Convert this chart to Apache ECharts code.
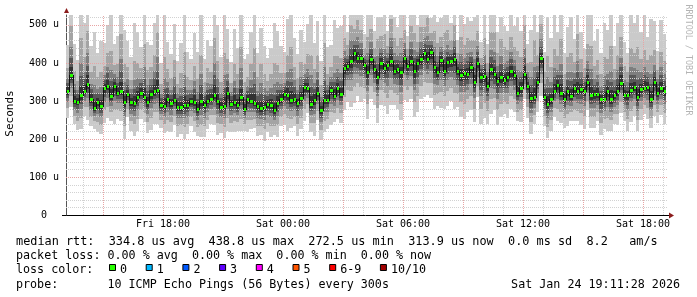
<!DOCTYPE html>
<html><head><meta charset="utf-8">
<script src="https://cdn.jsdelivr.net/npm/echarts@6/dist/echarts.min.js"></script>
<style>html,body{margin:0;padding:0;background:#fff}#c{width:697px;height:297px}</style>
</head><body><div id="c"></div>
<script>
// ---- axis / time settings (hours since Fri 00:00) ----
const START_HOUR = 13.15;
const END_HOUR = 43.15;
const STEP_HOURS = 1 / 6;          // 10-minute steps
const Y_MAX = 526;                 // microseconds
const xTickHours = [18, 24, 30, 36, 42];
const xTickLabels = ['Fri 18:00', 'Sat 00:00', 'Sat 06:00', 'Sat 12:00', 'Sat 18:00'];
const yTickValues = [0, 100, 200, 300, 400, 500];
const yTickLabels = ['0  ', '100 u', '200 u', '300 u', '400 u', '500 u'];
const gridHours = [14,15,16,17,18,19,20,21,22,23,24,25,26,27,28,29,30,31,32,33,34,35,36,37,38,39,40,41,42,43];
const gridValues = [20,40,60,80,100,120,140,160,180,200,220,240,260,280,300,320,340,360,380,400,420,440,460,480,500,520];

// ---- median RTT (us), one per 10-minute step ----
const median = [
326,368,300,298,315,326,345,305,281,297,
287,333,340,312,340,322,326,296,318,296,
294,310,322,310,296,318,325,330,289,286,
305,294,303,285,283,289,289,299,298,278,
300,289,301,305,316,301,285,287,320,293,
298,290,311,280,304,301,295,287,281,285,
292,290,275,295,304,318,316,303,305,294,
307,336,333,292,303,320,276,303,302,328,
314,333,318,386,392,405,425,412,412,395,
377,410,385,362,400,386,395,405,380,385,
375,412,392,406,378,400,410,425,410,428,
388,377,407,380,402,405,410,380,368,373,
370,390,350,400,364,366,340,385,370,352,
362,356,364,378,367,322,335,370,340,307,
310,351,412,310,292,305,327,342,322,305,
325,312,333,326,331,327,350,315,318,318,
305,305,326,305,315,326,348,316,315,330,
336,311,331,335,337,305,350,322,334,325];

// ---- smoke: distance (us) above median of ping 10,9,8,7,6 ----
const above1 = [
120,240,150,110,260,180,250,140,200,130,
170,120,160,230,110,150,260,190,140,120,
210,170,120,250,160,130,180,270,110,240,
150,130,200,120,170,260,140,110,180,150,
230,120,160,140,260,200,130,250,170,110,
190,150,240,130,120,180,260,140,210,160,
120,150,230,190,140,110,200,250,160,130,
180,120,170,240,150,190,130,260,140,120,
200,160,180,
140,90,150,110,160,130,80,150,140,100,
160,120,150,90,170,140,110,150,130,80,
150,160,100,140,120,170,90,150,130,110,
160,140,100,150,80,160,130,150,120,170,
140,90,160,110,150,170,130,160,140,120,
150,130,
200,150,240,110,180,260,130,170,120,230,
160,200,140,250,120,170,210,130,260,150,
110,190,240,140,170,120,200,160,250,130,
180,220,140,110,200,170,240,150,190,130,
210,160,110,180,150];
const above2 = [
60,130,80,55,150,90,140,70,110,65,
90,60,85,120,55,75,150,100,70,60,
110,90,65,140,85,70,95,150,55,130,
80,65,105,60,90,140,75,55,95,80,
120,60,85,70,150,105,65,140,90,55,
100,80,130,70,60,95,145,75,115,85,
60,80,125,100,70,55,105,140,85,65,
95,60,90,130,80,100,65,150,70,60,
105,85,95,
80,55,95,65,100,75,45,90,80,55,
100,70,90,50,110,85,60,90,75,45,
90,100,55,85,70,110,50,95,75,60,
100,85,55,90,45,100,75,95,70,110,
85,50,100,60,95,110,75,100,85,70,
90,75,
110,80,130,60,95,150,70,90,65,125,
85,110,75,140,65,90,115,70,150,80,
60,100,130,75,90,65,110,85,140,70,
95,120,75,60,110,90,130,80,100,70,
115,85,60,95,80];
const above3 = [
35,75,45,30,85,50,80,40,60,35,
50,35,50,70,30,40,85,55,40,35,
60,50,35,80,45,40,55,85,30,75,
45,35,60,35,50,80,40,30,55,45,
70,35,45,40,85,60,35,80,50,30,
55,45,75,40,35,55,80,40,65,50,
35,45,70,55,40,30,60,80,50,35,
55,35,50,75,45,55,35,85,40,35,
60,50,55,
45,30,55,35,55,40,25,50,45,30,
55,40,50,30,60,45,35,50,40,25,
50,55,30,45,40,60,30,55,40,35,
55,45,30,50,25,55,40,55,40,60,
45,30,55,35,50,60,40,55,45,40,
50,40,
60,45,70,35,55,80,40,50,35,70,
45,60,40,75,35,50,65,40,80,45,
35,55,70,40,50,35,60,45,75,40,
55,65,40,35,60,50,70,45,55,40,
65,45,35,55,45];
const above4 = [
22,44,30,19,50,31,47,27,36,24,
31,23,33,41,20,26,52,34,25,22,
37,30,24,48,29,25,35,50,19,45,
28,22,37,23,31,47,26,19,34,28,
42,23,29,26,51,36,22,48,32,20,
35,28,44,26,23,34,49,25,39,31,
22,29,41,34,26,20,37,47,31,23,
34,22,31,45,29,34,23,50,26,22,
37,31,34,
28,19,33,22,34,25,16,31,27,19,
34,25,31,19,37,28,22,30,25,16,
31,34,19,28,25,37,19,34,25,22,
34,28,19,31,16,34,25,34,25,37,
28,19,34,22,31,37,25,34,28,25,
31,25,
37,28,43,22,34,49,25,31,22,43,
28,37,25,46,22,31,40,25,49,28,
22,34,43,25,31,22,37,28,46,25,
34,40,25,22,37,31,43,28,34,25,
40,28,22,34,28];
const above5 = [
11,21,14,9,24,15,23,13,18,12,
15,11,16,20,10,13,25,17,12,11,
18,15,12,23,14,12,17,24,9,22,
14,11,18,11,15,23,13,9,17,14,
20,11,14,13,25,18,11,23,16,10,
17,14,21,13,11,17,24,12,19,15,
11,14,20,17,13,10,18,23,15,11,
17,11,15,22,14,17,11,24,13,11,
18,15,17,
14,10,17,11,17,12,8,15,14,10,
17,12,15,10,18,14,11,15,12,8,
15,17,10,14,12,18,10,17,12,11,
17,14,10,15,8,17,12,17,12,18,
14,10,17,11,15,18,12,17,14,12,
15,12,
18,14,21,11,17,24,12,15,11,21,
14,18,12,23,11,15,20,12,24,14,
11,17,21,12,15,11,18,14,23,12,
17,20,12,11,18,15,21,14,17,12,
20,14,11,17,14];

// ---- smoke: distance (us) below median of ping 1,2,3,4,5 ----
const below1 = [
70,85,60,75,90,65,95,70,55,80,
75,90,85,65,100,70,80,95,60,75,
85,90,70,65,80,95,85,90,60,70,
85,75,65,80,70,90,75,65,80,70,
95,85,75,65,80,90,70,85,100,75,
80,70,90,60,85,75,65,80,70,90,
75,85,65,90,70,80,95,75,70,85,
80,90,65,75,95,70,80,85,75,90,
70,80,75,
110,95,120,130,100,115,90,125,105,95,
120,110,100,130,115,90,105,125,110,95,
100,120,130,105,115,95,120,110,90,125,
100,115,105,130,95,110,120,100,115,105,
90,125,110,100,120,95,115,105,90,110,
100,95,
75,90,65,85,95,70,80,100,75,90,
85,70,95,80,75,90,65,85,80,95,
100,75,85,90,70,95,80,105,85,75,
90,80,70,95,85,75,90,80,70,85,
75,90,80,70,85];
const below2 = [
45,55,40,50,60,42,62,48,35,52,
50,58,55,42,65,46,52,62,40,50,
55,58,45,42,52,62,55,58,40,46,
55,50,42,52,46,58,50,42,52,46,
62,55,50,42,52,58,46,55,65,50,
52,46,58,40,55,50,42,52,46,58,
50,55,42,58,46,52,62,50,46,55,
52,58,42,50,62,46,52,55,50,58,
46,52,50,
75,62,80,88,66,76,60,84,70,62,
80,72,66,88,76,60,70,84,72,62,
66,80,88,70,76,62,80,72,60,84,
66,76,70,88,62,72,80,66,76,70,
60,84,72,66,80,62,76,70,60,72,
66,62,
50,60,42,56,62,46,52,66,50,60,
56,46,62,52,50,60,42,56,52,62,
66,50,56,60,46,62,52,70,56,50,
60,52,46,62,56,50,60,52,46,56,
50,60,52,46,56];
const below3 = [
28,34,24,30,36,25,38,29,21,32,
30,35,33,25,40,28,31,37,24,30,
33,35,27,25,31,37,33,35,24,28,
33,30,25,31,28,35,30,25,31,28,
37,33,30,25,31,35,28,33,40,30,
31,28,35,24,33,30,25,31,28,35,
30,33,25,35,28,31,37,30,28,33,
31,35,25,30,37,28,31,33,30,35,
28,31,30,
46,38,50,55,40,46,36,52,42,38,
50,44,40,55,46,36,42,52,44,38,
40,50,55,42,46,38,50,44,36,52,
40,46,42,55,38,44,50,40,46,42,
36,52,44,40,50,38,46,42,36,44,
40,38,
30,37,25,34,38,28,31,40,30,37,
34,28,38,31,30,37,25,34,31,38,
40,30,34,37,28,38,31,43,34,30,
37,31,28,38,34,30,37,31,28,34,
30,37,31,28,34];
const below4 = [
18,22,16,19,24,16,25,19,14,21,
19,23,21,16,26,18,20,24,16,19,
21,23,18,16,20,24,21,23,16,18,
21,19,16,20,18,23,19,16,20,18,
24,21,19,16,20,23,18,21,26,19,
20,18,23,16,21,19,16,20,18,23,
19,21,16,23,18,20,24,19,18,21,
20,23,16,19,24,18,20,21,19,23,
18,20,19,
30,25,33,36,26,30,23,34,27,25,
33,29,26,36,30,23,27,34,29,25,
26,33,36,27,30,25,33,29,23,34,
26,30,27,36,25,29,33,26,30,27,
23,34,29,26,33,25,30,27,23,29,
26,25,
20,24,16,22,25,18,20,26,20,24,
22,18,25,20,20,24,16,22,20,25,
26,20,22,24,18,25,20,28,22,20,
24,20,18,25,22,20,24,20,18,22,
20,24,20,18,22];
const below5 = [
10,12,8,10,13,9,13,10,7,11,
10,12,11,9,14,10,11,13,8,10,
11,12,9,9,11,13,11,12,8,10,
11,10,9,11,10,12,10,9,11,10,
13,11,10,9,11,12,10,11,14,10,
11,10,12,8,11,10,9,11,10,12,
10,11,9,12,10,11,13,10,10,11,
11,12,9,10,13,10,11,11,10,12,
10,11,10,
16,13,18,19,14,16,13,18,15,13,
18,15,14,19,16,13,15,18,15,13,
14,18,19,15,16,13,18,15,13,18,
14,16,15,19,13,15,18,14,16,15,
13,18,15,14,18,13,16,15,13,15,
14,13,
11,13,9,12,13,10,11,14,11,13,
12,10,13,11,11,13,9,12,11,13,
14,11,12,13,10,13,11,15,12,11,
13,11,10,13,12,11,13,11,10,12,
11,13,11,10,12];

const smokeColors = ['#cacaca', '#a4a4a4', '#7e7e7e', '#585858', '#323232'];
const lossLabels = ['0', '1', '2', '3', '4', '5', '6-9', '10/10'];
const lossColors = ['#26ff00', '#00b8ff', '#0059ff', '#5e00ff', '#ff00ff', '#ff5500', '#ff0000', '#a10000'];
const legendLines = [
  'median rtt:  334.8 us avg  438.8 us max  272.5 us min  313.9 us now  0.0 ms sd  8.2   am/s',
  'packet loss: 0.00 % avg  0.00 % max  0.00 % min  0.00 % now',
  'loss color:',
  'probe:       10 ICMP Echo Pings (56 Bytes) every 300s'
];
const stampText = 'Sat Jan 24 19:11:28 2026';
const sideText = 'RRDTOOL / TOBI OETIKER';
const yTitle = 'Seconds';

// ---- sanity ----
[above1,above2,above3,above4,above5,below1,below2,below3,below4,below5].forEach((a, k) => {
  if (a.length !== median.length) throw new Error('array ' + k + ' length ' + a.length);
});

const MONO = '"DejaVu Sans Mono", monospace';
const aboveArr = [above1, above2, above3, above4, above5];
const belowArr = [below1, below2, below3, below4, below5];

function bandSeries(k) {
  const data = median.map((m, i) => [START_HOUR + i * STEP_HOURS, m - belowArr[k][i], m + aboveArr[k][i]]);
  return {
    type: 'custom', silent: true, clip: true, z: 1 + k * 0.01,
    encode: { x: 0, y: [1, 2] },
    data,
    renderItem(params, api) {
      const t = api.value(0), lo = api.value(1), hi = Math.min(api.value(2), Y_MAX);
      const a = api.coord([t, hi]), b = api.coord([t + STEP_HOURS, lo]);
      const x0 = Math.round(a[0]), x1 = Math.round(b[0]);
      const y0 = Math.round(a[1]), y1 = Math.round(b[1]);
      return { type: 'rect', shape: { x: x0, y: y0, width: x1 - x0, height: y1 - y0 }, style: { fill: smokeColors[k] } };
    }
  };
}

const gridVSeries = {
  type: 'custom', silent: true, z: 3,
  encode: { x: 0, y: 1 },
  data: gridHours.map(h => [h, 0]),
  renderItem(params, api) {
    const h = api.value(0);
    const p = api.coord([h, 0]), q = api.coord([h, Y_MAX]);
    const x = Math.round(p[0]) + 0.5;
    const major = Math.round(h) % 3 === 0;
    return { type: 'line', shape: { x1: x, y1: p[1], x2: x, y2: q[1] },
      style: { stroke: major ? '#e8a4a4' : '#d2d2d2', lineWidth: 1, lineDash: [1, 1] } };
  }
};
const gridHSeries = {
  type: 'custom', silent: true, z: 3,
  encode: { x: 0, y: 1 },
  data: gridValues.map(v => [START_HOUR, v]),
  renderItem(params, api) {
    const v = api.value(1);
    const p = api.coord([START_HOUR, v]), q = api.coord([END_HOUR, v]);
    const y = Math.round(p[1]) + 0.5;
    const major = v % 100 === 0;
    return { type: 'line', shape: { x1: p[0], y1: y, x2: q[0] + 2, y2: y },
      style: { stroke: major ? '#e8a4a4' : '#d2d2d2', lineWidth: 1, lineDash: [1, 1] } };
  }
};

const medianSeries = {
  type: 'custom', silent: true, clip: true, z: 5,
  encode: { x: 0, y: 1 },
  data: median.map((m, i) => [START_HOUR + i * STEP_HOURS, m, i > 0 ? median[i - 1] : m]),
  renderItem(params, api) {
    const t = api.value(0), m = api.value(1), pm = api.value(2);
    const a = api.coord([t, m]), b = api.coord([t + STEP_HOURS, m]), c = api.coord([t, pm]);
    const x0 = Math.round(a[0]), x1 = Math.round(b[0]);
    const y = Math.round(a[1]), yp = Math.round(c[1]);
    return { type: 'group', children: [
      { type: 'line', shape: { x1: x0 + 0.5, y1: Math.min(y, yp), x2: x0 + 0.5, y2: Math.max(y, yp) + 1 },
        style: { stroke: '#101010', lineWidth: 1 } },
      { type: 'rect', shape: { x: x0 + 1, y: y - 1, width: Math.max(1, x1 - x0 - 1), height: 3 }, style: { fill: lossColors[0] } }
    ] };
  }
};

// ---- graphic decorations / legend ----
const graphic = [];
graphic.push({ type: 'text', x: 10.5, y: 113.5, rotation: Math.PI / 2,
  style: { text: yTitle, font: '11px ' + MONO, fill: '#000', align: 'center', verticalAlign: 'middle' } });
graphic.push({ type: 'text', x: 688, y: 60, rotation: -Math.PI / 2,
  style: { text: sideText, font: '8.4px ' + MONO, fill: '#b4b4b4', align: 'center', verticalAlign: 'middle' } });
// axis arrows
graphic.push({ type: 'polygon', shape: { points: [[64, 13], [69, 13], [66.5, 8]] }, style: { fill: '#8b1c1c' } });
graphic.push({ type: 'polygon', shape: { points: [[669, 212.5], [669, 218.5], [674, 215.5]] }, style: { fill: '#8b1c1c' } });
graphic.push({ type: 'line', shape: { x1: 62, y1: 215.5, x2: 669, y2: 215.5 }, style: { stroke: '#000', lineWidth: 1 } });

const lineY = [241.5, 255.8, 270.1, 284.6];
legendLines.forEach((t, i) => {
  graphic.push({ type: 'text', x: 16, y: lineY[i],
    style: { text: t, font: (i === 0 ? '11.85px ' : '11.7px ') + MONO, fill: '#000', align: 'left', verticalAlign: 'middle' } });
});
let bx = 109;
lossLabels.forEach((lab, i) => {
  graphic.push({ type: 'rect', shape: { x: bx + 0.5, y: 264.5, width: 6, height: 6 },
    style: { fill: lossColors[i], stroke: '#000', lineWidth: 1 } });
  graphic.push({ type: 'text', x: bx + 11, y: lineY[2],
    style: { text: lab, font: '11.7px ' + MONO, fill: '#000', align: 'left', verticalAlign: 'middle' } });
  bx += 36.7 + 7 * (lab.length - 1);
});
graphic.push({ type: 'text', x: 680, y: lineY[3],
  style: { text: stampText, font: '11.7px ' + MONO, fill: '#000', align: 'right', verticalAlign: 'middle' } });

const chart = echarts.init(document.getElementById('c'), null, { renderer: 'canvas' });
chart.setOption({
  animation: false,
  backgroundColor: '#ffffff',
  grid: { left: 66, right: 31, top: 15, bottom: 82, containLabel: false },
  xAxis: {
    type: 'value', min: START_HOUR, max: END_HOUR,
    axisLine: { show: false },
    axisTick: { show: false },
    splitLine: { show: false },
    axisLabel: {
      customValues: xTickHours, margin: 4,
      fontFamily: MONO, fontSize: 10, color: '#000',
      formatter: v => { const i = xTickHours.indexOf(Math.round(v)); return i >= 0 ? xTickLabels[i] : ''; }
    }
  },
  yAxis: {
    type: 'value', min: 0, max: Y_MAX, interval: 100,
    axisLine: { show: true, lineStyle: { color: '#555', width: 1 } },
    axisTick: { show: false },
    splitLine: { show: false },
    axisLabel: {
      customValues: yTickValues, margin: 7, padding: [6, 0, 0, 0],
      fontFamily: MONO, fontSize: 10, color: '#000',
      formatter: v => { const i = yTickValues.indexOf(Math.round(v)); return i >= 0 ? yTickLabels[i] : ''; }
    }
  },
  graphic,
  series: [bandSeries(0), bandSeries(1), bandSeries(2), bandSeries(3), bandSeries(4), gridVSeries, gridHSeries, medianSeries]
});
</script>
</body></html>
